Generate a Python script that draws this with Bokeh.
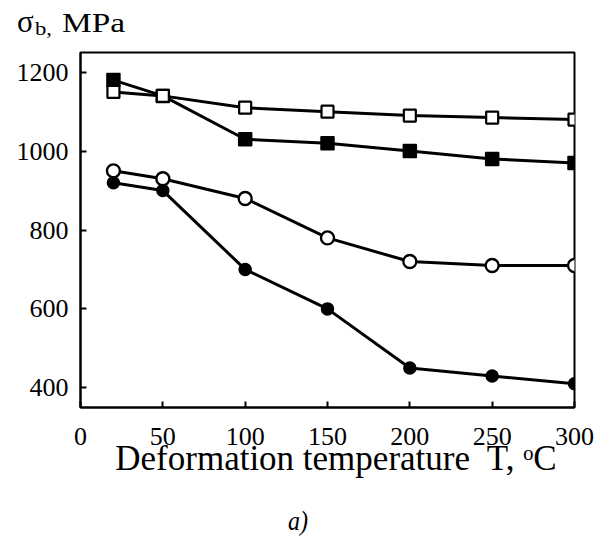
from bokeh.plotting import figure
from bokeh.layouts import column
from bokeh.models import Range1d, FixedTicker, Div
from bokeh.embed import file_html
from bokeh.resources import INLINE

# Data
temps = [20, 50, 100, 150, 200, 250, 300]
sq_filled = [1180, 1140, 1030, 1020, 1000, 980, 970]
sq_open = [1150, 1140, 1110, 1100, 1090, 1085, 1080]
circ_open = [950, 930, 880, 780, 720, 710, 710]
circ_filled = [920, 900, 700, 600, 450, 430, 410]
x_ticks = [0, 50, 100, 150, 200, 250, 300]
y_ticks = [400, 600, 800, 1000, 1200]

y_title = ("σ", "b,", "MPa")
x_title = "\u2002Deformation temperature\u00a0 T, ᵒC"
caption = "a)"

FONT = "Liberation Serif"
W = 611
TXT = f"font-family:'{FONT}',serif;fill:black;"

# ---- top strip: y-axis title  sigma_b, MPa (real SVG text)
top_svg = (
    f'<svg xmlns="http://www.w3.org/2000/svg" width="{W}" height="40" '
    f'style="display:block">'
    f'<text x="17" y="32" style="{TXT}font-size:31px;">{y_title[0]}</text>'
    f'<text x="35" y="35" style="{TXT}font-size:19px;" textLength="17" '
    f'lengthAdjust="spacingAndGlyphs">{y_title[1]}</text>'
    f'<text x="62" y="32" style="{TXT}font-size:27px;" textLength="63" '
    f'lengthAdjust="spacingAndGlyphs">{y_title[2]}</text>'
    '</svg>'
)
top = Div(text=top_svg, width=W, height=40, margin=0)

# ---- main plot
p = figure(width=W, height=465, output_backend="svg", toolbar_location=None,
           x_range=Range1d(0, 300), y_range=Range1d(350, 1250),
           min_border_left=80, min_border_right=37, min_border_top=12,
           min_border_bottom=98, background_fill_color="white",
           border_fill_color="white", margin=0)

p.grid.visible = False
p.outline_line_color = "black"
p.outline_line_width = 2
p.outline_line_alpha = 1

for ax in (p.xaxis, p.yaxis):
    ax.axis_line_width = 2
    ax.axis_line_color = "black"
    ax.major_tick_line_width = 2
    ax.major_tick_line_color = "black"
    ax.major_tick_in = 6
    ax.major_tick_out = 0
    ax.minor_tick_line_color = None
    ax.major_label_text_font = FONT
    ax.major_label_text_font_size = "26px"
    ax.major_label_text_color = "black"

p.xaxis.ticker = FixedTicker(ticks=x_ticks)
p.yaxis.ticker = FixedTicker(ticks=y_ticks)
p.xaxis.major_label_standoff = 20
p.yaxis.major_label_standoff = 12

p.xaxis.axis_label = x_title
p.xaxis.axis_label_text_font = FONT
p.xaxis.axis_label_text_font_size = "35px"
p.xaxis.axis_label_text_font_style = "normal"
p.xaxis.axis_label_text_color = "black"
p.xaxis.axis_label_standoff = -9

for ys in (sq_filled, sq_open, circ_open, circ_filled):
    p.line(temps, ys, line_color="black", line_width=3)

p.scatter(temps, sq_filled, marker="square", size=13, fill_color="black",
          line_color="black", line_width=1.5)
p.scatter(temps, sq_open, marker="square", size=12, fill_color="white",
          line_color="black", line_width=2.2)
p.scatter(temps, circ_open, marker="circle", size=13, fill_color="white",
          line_color="black", line_width=2.4)
p.scatter(temps, circ_filled, marker="circle", size=12, fill_color="black",
          line_color="black", line_width=1.5)

# ---- bottom strip: panel caption
bot_svg = (
    f'<svg xmlns="http://www.w3.org/2000/svg" width="{W}" height="33" '
    f'style="display:block">'
    f'<text x="288" y="25" style="{TXT}font-size:27px;font-style:italic;" '
    f'textLength="20" lengthAdjust="spacingAndGlyphs">{caption}</text>'
    '</svg>'
)
bot = Div(text=bot_svg, width=W, height=33, margin=0)

layout = column(top, p, bot, spacing=0)
open("out.html", "w").write(file_html(layout, INLINE))
